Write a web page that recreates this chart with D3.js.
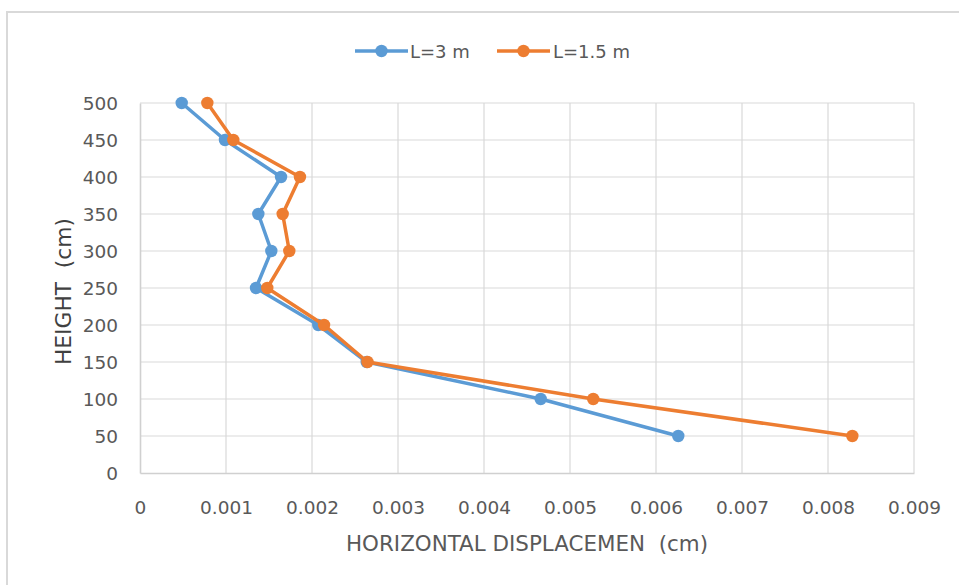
<!DOCTYPE html>
<html>
<head>
<meta charset="utf-8">
<script src="https://cdn.jsdelivr.net/npm/d3@7"></script>
<style>
  html, body { margin: 0; padding: 0; background: #fff; }
  svg { display: block; }
  text { font-family: "DejaVu Sans", sans-serif; white-space: pre; }
</style>
</head>
<body>
<script>
// ---- data ----
const heights = [500, 450, 400, 350, 300, 250, 200, 150, 100, 50];
const dispL3 = [0.000485, 0.000988, 0.00164, 0.001376, 0.001527, 0.001349, 0.002073, 0.002636, 0.004659, 0.006259];
const dispL15 = [0.000783, 0.001085, 0.00186, 0.001659, 0.001736, 0.00148, 0.00214, 0.002645, 0.00527, 0.008283];
const seriesNames = ["L=3 m", "L=1.5 m"];
const seriesColors = ["#5B9BD5", "#ED7D31"];
const xTicks = [0, 0.001, 0.002, 0.003, 0.004, 0.005, 0.006, 0.007, 0.008, 0.009];
const xTickLabels = ["0", "0.001", "0.002", "0.003", "0.004", "0.005", "0.006", "0.007", "0.008", "0.009"];
const yTicks = [0, 50, 100, 150, 200, 250, 300, 350, 400, 450, 500];
const xTitle = "HORIZONTAL DISPLACEMEN  (cm)";
const yTitle = "HEIGHT  (cm)";

const W = 959, H = 585;
const m = { left: 140, right: 45, top: 103, bottom: 112 };

const svg = d3.select("body").append("svg").attr("width", W).attr("height", H);

// chart border
svg.append("rect").attr("x", 7).attr("y", 12).attr("width", 980).attr("height", 620)
  .attr("fill", "#fff").attr("stroke", "#d9d9d9").attr("stroke-width", 2);

const x = d3.scaleLinear().domain([0, 0.009]).range([m.left, W - m.right]);
const y = d3.scaleLinear().domain([0, 500]).range([H - m.bottom, m.top]);

// gridlines
const g = svg.append("g");
g.selectAll("line.h").data(yTicks.filter(d => d > 0)).enter().append("line")
  .attr("x1", x(0)).attr("x2", x(0.009)).attr("y1", d => y(d)).attr("y2", d => y(d))
  .attr("stroke", "#d9d9d9").attr("stroke-width", 1.2);
g.selectAll("line.v").data(xTicks.filter(d => d > 0)).enter().append("line")
  .attr("y1", y(0)).attr("y2", y(500)).attr("x1", d => x(d)).attr("x2", d => x(d))
  .attr("stroke", "#d9d9d9").attr("stroke-width", 1.2);

// axes
const xAxis = d3.axisBottom(x).tickValues(xTicks).tickFormat((d, i) => xTickLabels[i]).tickSize(0).tickPadding(28);
const yAxis = d3.axisLeft(y).tickValues(yTicks).tickSize(0).tickPadding(22);
const gx = svg.append("g").attr("transform", `translate(0,${y(0)})`).call(xAxis);
const gy = svg.append("g").attr("transform", `translate(${x(0)},0)`).call(yAxis);
[gx, gy].forEach(a => {
  a.select(".domain").attr("stroke", "#d0d0d0").attr("stroke-width", 1.6);
  a.selectAll("text").attr("font-family", "DejaVu Sans").attr("font-size", 18.5).attr("fill", "#595959");
});
gy.selectAll("text").attr("dy", "0.36em");

// lines & markers
const seriesData = [dispL3, dispL15];
const line = d3.line().x(d => x(d[0])).y(d => y(d[1]));
seriesData.forEach((vals, si) => {
  const pts = vals.map((v, i) => [v, heights[i]]);
  svg.append("path").datum(pts).attr("d", line).attr("fill", "none")
    .attr("stroke", seriesColors[si]).attr("stroke-width", 3.5).attr("stroke-linejoin", "round");
  svg.append("g").selectAll("circle").data(pts).enter().append("circle")
    .attr("cx", d => x(d[0])).attr("cy", d => y(d[1])).attr("r", 6.2)
    .attr("fill", seriesColors[si]);
});

// legend
const legendItems = [{ x0: 355, tx: 410 }, { x0: 497, tx: 553 }];
legendItems.forEach((it, i) => {
  const lg = svg.append("g");
  lg.append("line").attr("x1", it.x0).attr("x2", it.x0 + 53).attr("y1", 51).attr("y2", 51)
    .attr("stroke", seriesColors[i]).attr("stroke-width", 3.5);
  lg.append("circle").attr("cx", it.x0 + 26.5).attr("cy", 51).attr("r", 6.2).attr("fill", seriesColors[i]);
  lg.append("text").attr("x", it.tx).attr("y", 57.5).attr("font-size", 18).attr("fill", "#595959")
    .text(seriesNames[i]);
});

// axis titles
svg.append("text").attr("x", 346).attr("y", 551).attr("font-size", 21).attr("fill", "#595959")
  .attr("textLength", 362).attr("lengthAdjust", "spacingAndGlyphs").text(xTitle);
svg.append("text").attr("transform", "translate(71,365) rotate(-90)").attr("font-size", 22)
  .attr("fill", "#404040").attr("textLength", 147).attr("lengthAdjust", "spacingAndGlyphs").text(yTitle);
</script>
</body>
</html>
